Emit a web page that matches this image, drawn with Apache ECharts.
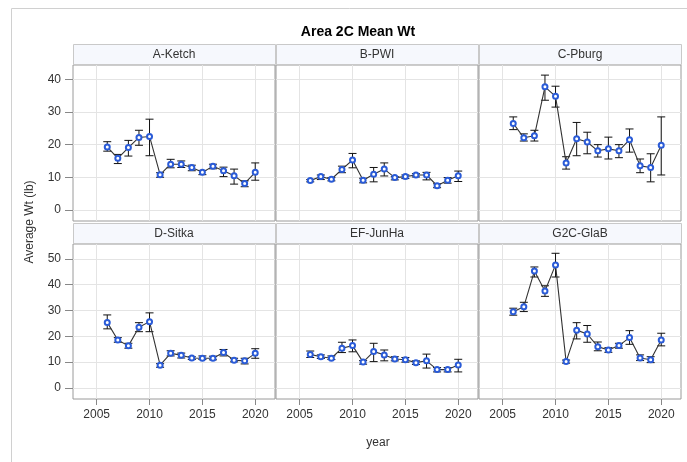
<!DOCTYPE html>
<html>
<head>
<meta charset="utf-8">
<script src="https://cdn.jsdelivr.net/npm/echarts@6/dist/echarts.min.js"></script>
<style>
  html, body { margin: 0; padding: 0; background: #fff; }
  #chart { width: 687px; height: 462px; }
</style>
</head>
<body>
<div id="chart"></div>
<script>
// data
const years = [2006, 2007, 2008, 2009, 2010, 2011, 2012, 2013, 2014, 2015, 2016, 2017, 2018, 2019, 2020];
const panelNames = ['A-Ketch', 'B-PWI', 'C-Pburg', 'D-Sitka', 'EF-JunHa', 'G2C-GlaB'];
const xTicks = [2005, 2010, 2015, 2020];
const yTicksTop = [0, 10, 20, 30, 40];
const yTicksBottom = [0, 10, 20, 30, 40, 50];

const meanKetch = [19.3, 15.8, 19.1, 22.2, 22.5, 10.8, 14.0, 14.0, 13.0, 11.5, 13.4, 12.0, 10.5, 8.1, 11.5];
const lowKetch  = [18.0, 14.2, 16.5, 19.8, 16.6, 10.0, 12.9, 13.0, 12.0, 10.8, 12.6, 10.2, 7.9, 7.1, 9.1];
const highKetch = [20.9, 17.0, 21.3, 24.4, 27.8, 11.4, 15.5, 15.0, 13.7, 12.1, 14.0, 13.1, 12.5, 8.9, 14.4];

const meanPWI = [9.0, 10.2, 9.4, 12.4, 15.3, 9.1, 10.9, 12.5, 9.9, 10.2, 10.7, 10.7, 7.4, 9.1, 10.5];
const lowPWI  = [8.6, 9.3, 8.9, 11.4, 12.9, 8.3, 8.6, 10.4, 9.2, 9.6, 10.1, 9.2, 6.8, 8.2, 8.7];
const highPWI = [9.3, 10.7, 9.9, 13.4, 17.3, 9.7, 13.0, 14.4, 10.2, 10.7, 11.1, 11.5, 8.0, 9.9, 11.9];

const meanPburg = [26.5, 22.1, 22.7, 37.7, 34.8, 14.4, 21.8, 20.8, 18.1, 18.7, 18.1, 21.5, 13.5, 13.0, 19.8];
const lowPburg  = [24.6, 21.1, 21.1, 33.6, 31.5, 12.5, 16.6, 17.2, 16.2, 15.6, 16.0, 17.7, 11.4, 8.6, 10.7];
const highPburg = [28.5, 23.3, 24.4, 41.3, 37.9, 16.3, 26.8, 23.8, 20.0, 22.3, 20.0, 24.8, 15.6, 17.2, 28.5];

const meanSitka = [25.4, 18.6, 16.3, 23.5, 25.7, 8.8, 13.4, 12.7, 11.6, 11.5, 11.5, 13.7, 10.7, 10.5, 13.4];
const lowSitka  = [22.9, 17.7, 15.4, 21.8, 21.8, 8.0, 12.4, 11.6, 11.0, 11.0, 10.9, 12.4, 10.1, 9.3, 11.5];
const highSitka = [28.3, 19.5, 17.3, 25.3, 29.1, 9.4, 14.4, 13.5, 12.1, 12.4, 12.3, 14.9, 11.5, 11.5, 15.2];

const meanJunHa = [13.0, 12.1, 11.5, 15.4, 16.4, 10.0, 14.1, 12.8, 11.2, 10.9, 9.8, 10.5, 7.1, 7.1, 8.9];
const lowJunHa  = [11.8, 11.4, 11.0, 13.7, 14.0, 9.2, 10.2, 10.5, 10.5, 10.0, 9.1, 7.7, 6.2, 6.2, 6.2];
const highJunHa = [14.3, 12.8, 12.4, 17.7, 18.6, 10.6, 17.3, 14.7, 12.1, 11.8, 10.5, 13.1, 7.9, 7.9, 11.1];

const meanGlaB = [29.5, 31.5, 45.3, 37.6, 47.7, 10.2, 22.4, 20.9, 16.0, 14.7, 16.4, 19.5, 11.6, 10.9, 18.6];
const lowGlaB  = [28.2, 29.6, 43.0, 35.5, 43.0, 9.6, 19.0, 17.7, 14.4, 13.8, 15.4, 16.9, 10.6, 9.8, 16.3];
const highGlaB = [30.9, 33.2, 46.9, 39.6, 52.2, 10.8, 25.3, 24.2, 17.8, 15.6, 17.3, 22.2, 12.8, 12.1, 21.2];

const means = [meanKetch, meanPWI, meanPburg, meanSitka, meanJunHa, meanGlaB];
const lows = [lowKetch, lowPWI, lowPburg, lowSitka, lowJunHa, lowGlaB];
const highs = [highKetch, highPWI, highPburg, highSitka, highJunHa, highGlaB];

// layout of the 2 x 3 panels
const colLeft = [73, 276, 479];
const colWidth = 202;
const rowTop = [65, 244];
const rowHeight = [156, 155];
const headerHeight = 21;
const font = 'Liberation Sans, Arial, sans-serif';
const textColor = '#333';
const markerColor = '#2a5bd7';

const chart = echarts.init(document.getElementById('chart'));

const grids = [], xAxes = [], yAxes = [], series = [], graphics = [];

// errorbar: vertical line + caps drawn from [year, low, high]
function renderErrorBar(params, api) {
  const x = api.value(0);
  const lo = api.coord([x, api.value(1)]);
  const hi = api.coord([x, api.value(2)]);
  const half = 4;
  const style = { stroke: '#111', lineWidth: 1 };
  return {
    type: 'group',
    children: [
      { type: 'line', shape: { x1: lo[0], y1: lo[1], x2: hi[0], y2: hi[1] }, style },
      { type: 'line', shape: { x1: hi[0] - half, y1: hi[1], x2: hi[0] + half, y2: hi[1] }, style },
      { type: 'line', shape: { x1: lo[0] - half, y1: lo[1], x2: lo[0] + half, y2: lo[1] }, style }
    ]
  };
}

panelNames.forEach((name, i) => {
  const row = Math.floor(i / 3);
  const col = i % 3;
  const bottomRow = row === 1;
  const firstCol = col === 0;

  grids.push({
    left: colLeft[col], top: rowTop[row], width: colWidth, height: rowHeight[row],
    show: true, borderColor: '#9a9a9a', borderWidth: 1, backgroundColor: '#fff'
  });

  xAxes.push({
    gridIndex: i, type: 'value', min: 2002.76, max: 2021.87, position: 'bottom',
    axisLine: { show: false, onZero: false },
    axisTick: { show: bottomRow, customValues: xTicks, length: 6, lineStyle: { color: '#888' } },
    axisLabel: {
      show: bottomRow, customValues: xTicks, color: textColor, fontFamily: font, fontSize: 12, margin: 10,
      formatter: v => String(v)
    },
    splitLine: { show: true, lineStyle: { color: '#e4e4e4' } }
  });

  const yTicks = row === 0 ? yTicksTop : yTicksBottom;
  yAxes.push({
    gridIndex: i, type: 'value', position: 'left',
    min: row === 0 ? -3.4 : -4.3,
    max: row === 0 ? 44.4 : 55.8,
    axisLine: { show: false, onZero: false },
    axisTick: { show: firstCol, customValues: yTicks, length: 8, lineStyle: { color: '#888' } },
    axisLabel: { show: firstCol, customValues: yTicks, color: textColor, fontFamily: font, fontSize: 12, margin: 12 },
    splitLine: { show: true, lineStyle: { color: '#e4e4e4' } }
  });

  series.push({
    type: 'custom', xAxisIndex: i, yAxisIndex: i, z: 2,
    renderItem: renderErrorBar,
    encode: { x: 0, y: [1, 2] },
    data: years.map((y, k) => [y, lows[i][k], highs[i][k]])
  });

  series.push({
    type: 'line', xAxisIndex: i, yAxisIndex: i, z: 3,
    symbol: 'emptyCircle', symbolSize: 5,
    itemStyle: { color: markerColor, borderWidth: 1.1 },
    lineStyle: { color: '#333', width: 1.1 },
    emphasis: { disabled: true },
    data: years.map((y, k) => [y, means[i][k]])
  });

  // panel header strip
  graphics.push({
    type: 'rect',
    shape: { x: colLeft[col] + 0.5, y: rowTop[row] - headerHeight + 0.5, width: colWidth, height: headerHeight - 1 },
    style: { fill: '#f6f8fd', stroke: '#c9c9c9', lineWidth: 1 }
  });
  graphics.push({
    type: 'text',
    x: colLeft[col] + colWidth / 2, y: rowTop[row] - headerHeight / 2,
    style: { text: name, fill: textColor, font: '12px ' + font, textAlign: 'center', textVerticalAlign: 'middle' }
  });
});

// outer frame lines
graphics.push({ type: 'line', shape: { x1: 11.5, y1: 8.5, x2: 687, y2: 8.5 }, style: { stroke: '#d0d0d0', lineWidth: 1 } });
graphics.push({ type: 'line', shape: { x1: 11.5, y1: 8.5, x2: 11.5, y2: 462 }, style: { stroke: '#d0d0d0', lineWidth: 1 } });

// axis titles
graphics.push({
  type: 'text', x: 30, y: 222, rotation: Math.PI / 2,
  style: { text: 'Average Wt (lb)', fill: textColor, font: '12px ' + font, textAlign: 'center', textVerticalAlign: 'middle' }
});
graphics.push({
  type: 'text', x: 378, y: 443,
  style: { text: 'year', fill: textColor, font: '12px ' + font, textAlign: 'center', textVerticalAlign: 'middle' }
});

chart.setOption({
  animation: false,
  title: {
    text: 'Area 2C Mean Wt', left: 353, top: 20, textAlign: 'center',
    textStyle: { fontFamily: font, fontSize: 14, fontWeight: 'bold', color: '#000' }
  },
  grid: grids,
  xAxis: xAxes,
  yAxis: yAxes,
  series: series,
  graphic: graphics
});
</script>
</body>
</html>
